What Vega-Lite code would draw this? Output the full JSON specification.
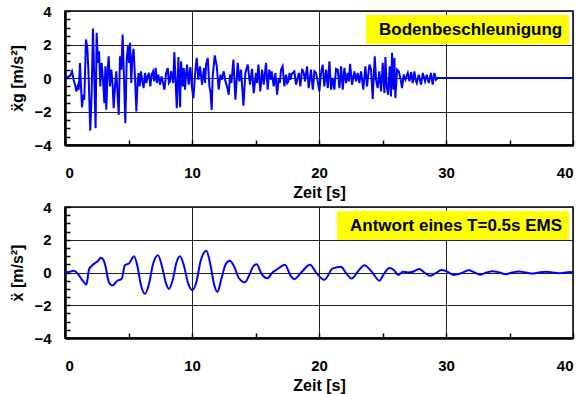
{
  "$schema": "https://vega.github.io/schema/vega-lite/v6.json",
  "background": "white",
  "padding": {"left": 9, "top": 3, "right": 5, "bottom": 5},
  "bounds": "flush",
  "spacing": 62,
  "config": {
    "font": "Liberation Sans",
    "view": {"stroke": "#000", "strokeWidth": 1.5},
    "axis": {
      "zindex": 1,
      "domainColor": "#000",
      "domainWidth": 2.5,
      "tickColor": "#000",
      "tickWidth": 1.5,
      "labelFont": "Liberation Sans",
      "labelFontWeight": "bold",
      "labelFontSize": 15,
      "labelColor": "#000",
      "titleFont": "Liberation Sans",
      "titleFontWeight": "bold",
      "titleFontSize": 16,
      "titleColor": "#000",
      "gridColor": "#222",
      "gridWidth": 1
    },
    "legend": {
      "orient": "top-right",
      "offset": 4,
      "fillColor": "#ffff00",
      "padding": 6,
      "symbolSize": 0,
      "symbolStrokeWidth": 0,
      "symbolOpacity": 0,
      "labelOffset": -10,
      "labelLimit": 0,
      "labelFont": "Liberation Sans",
      "labelFontWeight": "bold",
      "labelFontSize": 17,
      "labelColor": "#000",
      "cornerRadius": 0
    }
  },
  "resolve": {"scale": {"color": "independent"}, "legend": {"color": "independent"}},
  "datasets": {
    "boden": [
      {"t":0,"a":0},{"t":0.21,"a":0.06},{"t":0.42,"a":0.14},{"t":0.55,"a":0.4},{"t":0.68,"a":-0.1},{"t":0.79,"a":-0.4},{"t":0.89,"a":-0.8},{"t":1.0,"a":-0.5},{"t":1.08,"a":-0.7},{"t":1.18,"a":0.9},{"t":1.26,"a":-0.5},{"t":1.34,"a":-1.75},{"t":1.44,"a":-1.0},{"t":1.52,"a":-1.3},{"t":1.65,"a":2.3},{"t":1.76,"a":1.8},{"t":1.86,"a":0.1},{"t":1.99,"a":-3.15},{"t":2.1,"a":-0.9},{"t":2.2,"a":2.95},{"t":2.31,"a":-0.1},{"t":2.41,"a":-3.0},{"t":2.49,"a":2.7},{"t":2.6,"a":0.9},{"t":2.68,"a":1.6},{"t":2.78,"a":-0.5},{"t":2.89,"a":0.9},{"t":3.0,"a":-0.2},{"t":3.1,"a":-1.5},{"t":3.18,"a":0.7},{"t":3.25,"a":-1.9},{"t":3.36,"a":0.5},{"t":3.44,"a":1.3},{"t":3.54,"a":-0.5},{"t":3.65,"a":0.5},{"t":3.75,"a":-0.4},{"t":3.83,"a":-1.8},{"t":3.94,"a":-0.5},{"t":4.04,"a":0.4},{"t":4.15,"a":-1.1},{"t":4.23,"a":-2.2},{"t":4.33,"a":1.3},{"t":4.44,"a":0.5},{"t":4.54,"a":2.6},{"t":4.65,"a":-0.1},{"t":4.75,"a":-2.7},{"t":4.86,"a":1.1},{"t":4.96,"a":1.9},{"t":5.04,"a":0.9},{"t":5.12,"a":2.1},{"t":5.22,"a":-0.3},{"t":5.3,"a":1.2},{"t":5.4,"a":1.75},{"t":5.5,"a":0.2},{"t":5.62,"a":-2.0},{"t":5.72,"a":-0.2},{"t":5.8,"a":0.3},{"t":5.88,"a":-0.5},{"t":5.98,"a":0.4},{"t":6.09,"a":-0.2},{"t":6.19,"a":-0.6},{"t":6.3,"a":0.3},{"t":6.4,"a":-0.3},{"t":6.51,"a":0.1},{"t":6.61,"a":0.3},{"t":6.72,"a":-0.5},{"t":6.82,"a":0.2},{"t":6.93,"a":0.4},{"t":7.03,"a":-0.2},{"t":7.14,"a":0.6},{"t":7.24,"a":-0.3},{"t":7.35,"a":0.2},{"t":7.48,"a":-0.4},{"t":7.6,"a":0.1},{"t":7.69,"a":-0.2},{"t":7.83,"a":-0.7},{"t":7.96,"a":0.3},{"t":8.09,"a":0.6},{"t":8.18,"a":-0.3},{"t":8.27,"a":-0.2},{"t":8.35,"a":0.4},{"t":8.43,"a":0.2},{"t":8.52,"a":-0.3},{"t":8.61,"a":1.55},{"t":8.8,"a":-1.8},{"t":8.93,"a":1.25},{"t":9.06,"a":-1.75},{"t":9.14,"a":1.0},{"t":9.27,"a":-0.5},{"t":9.35,"a":0.6},{"t":9.45,"a":-0.7},{"t":9.53,"a":0.2},{"t":9.61,"a":0.8},{"t":9.74,"a":-0.4},{"t":9.87,"a":0.65},{"t":10.0,"a":-0.6},{"t":10.11,"a":-1.2},{"t":10.27,"a":0.5},{"t":10.37,"a":1.2},{"t":10.5,"a":-0.1},{"t":10.63,"a":0.7},{"t":10.79,"a":-0.4},{"t":10.88,"a":0.2},{"t":10.95,"a":0.6},{"t":11.03,"a":-0.3},{"t":11.11,"a":0.8},{"t":11.24,"a":1.2},{"t":11.37,"a":-0.5},{"t":11.45,"a":-0.8},{"t":11.55,"a":-1.9},{"t":11.63,"a":0.1},{"t":11.79,"a":1.35},{"t":11.95,"a":0.7},{"t":12.1,"a":-0.7},{"t":12.24,"a":0.2},{"t":12.34,"a":-0.1},{"t":12.5,"a":0.4},{"t":12.63,"a":-0.2},{"t":12.76,"a":-0.5},{"t":12.89,"a":-1.0},{"t":13.0,"a":0.2},{"t":13.1,"a":-0.3},{"t":13.26,"a":1.1},{"t":13.42,"a":-1.3},{"t":13.6,"a":0.9},{"t":13.73,"a":-0.2},{"t":13.86,"a":0.5},{"t":14.05,"a":-1.65},{"t":14.2,"a":0.3},{"t":14.39,"a":0.8},{"t":14.57,"a":-0.4},{"t":14.73,"a":0.55},{"t":14.86,"a":-0.9},{"t":15.04,"a":0.3},{"t":15.13,"a":-0.3},{"t":15.23,"a":0.8},{"t":15.38,"a":-0.8},{"t":15.52,"a":0.5},{"t":15.65,"a":-0.4},{"t":15.83,"a":0.9},{"t":15.96,"a":-0.7},{"t":16.09,"a":0.5},{"t":16.2,"a":-0.1},{"t":16.28,"a":0.4},{"t":16.43,"a":-0.5},{"t":16.57,"a":0.3},{"t":16.7,"a":-1.0},{"t":16.83,"a":0},{"t":16.92,"a":-0.3},{"t":17.01,"a":0.5},{"t":17.14,"a":0.7},{"t":17.27,"a":-0.5},{"t":17.41,"a":0.2},{"t":17.5,"a":-0.3},{"t":17.59,"a":-0.2},{"t":17.68,"a":0.3},{"t":17.75,"a":-0.1},{"t":17.84,"a":0.2},{"t":17.93,"a":0.3},{"t":18.06,"a":0.4},{"t":18.19,"a":-0.4},{"t":18.32,"a":0},{"t":18.42,"a":0.3},{"t":18.53,"a":-0.5},{"t":18.67,"a":0.55},{"t":18.8,"a":0.3},{"t":18.9,"a":-0.2},{"t":19.06,"a":0.7},{"t":19.19,"a":-0.6},{"t":19.37,"a":0.5},{"t":19.51,"a":-0.7},{"t":19.64,"a":0.4},{"t":19.77,"a":0.3},{"t":19.9,"a":-0.2},{"t":20.03,"a":-0.8},{"t":20.16,"a":0.3},{"t":20.29,"a":0.8},{"t":20.42,"a":-0.5},{"t":20.56,"a":0.5},{"t":20.69,"a":-0.6},{"t":20.82,"a":1.0},{"t":20.95,"a":-0.7},{"t":21.08,"a":0},{"t":21.21,"a":-0.7},{"t":21.34,"a":0.55},{"t":21.47,"a":0.5},{"t":21.61,"a":-0.6},{"t":21.74,"a":0.7},{"t":21.87,"a":-0.7},{"t":22.0,"a":0.6},{"t":22.13,"a":-0.3},{"t":22.26,"a":0.3},{"t":22.35,"a":-0.2},{"t":22.45,"a":0.85},{"t":22.6,"a":-0.4},{"t":22.79,"a":0.4},{"t":22.92,"a":-0.2},{"t":23.05,"a":0.3},{"t":23.18,"a":-0.3},{"t":23.31,"a":0.4},{"t":23.49,"a":-0.7},{"t":23.65,"a":0.7},{"t":23.78,"a":-0.5},{"t":23.97,"a":0.8},{"t":24.1,"a":0.5},{"t":24.23,"a":-1.25},{"t":24.39,"a":1.3},{"t":24.49,"a":-0.1},{"t":24.62,"a":-0.6},{"t":24.75,"a":0.4},{"t":24.89,"a":-0.8},{"t":25.02,"a":0.9},{"t":25.15,"a":-0.9},{"t":25.23,"a":1.25},{"t":25.33,"a":-0.5},{"t":25.44,"a":-1.0},{"t":25.57,"a":0.7},{"t":25.67,"a":-1.1},{"t":25.75,"a":1.5},{"t":25.86,"a":-0.7},{"t":25.94,"a":1.2},{"t":26.01,"a":-1.2},{"t":26.15,"a":0.5},{"t":26.28,"a":0.4},{"t":26.41,"a":0},{"t":26.54,"a":-0.6},{"t":26.67,"a":0.2},{"t":26.8,"a":-0.1},{"t":26.99,"a":0.3},{"t":27.12,"a":-0.2},{"t":27.25,"a":0.35},{"t":27.38,"a":-0.3},{"t":27.51,"a":0.4},{"t":27.6,"a":-0.1},{"t":27.7,"a":-0.3},{"t":27.85,"a":0.2},{"t":28.04,"a":-0.4},{"t":28.17,"a":0.3},{"t":28.35,"a":-0.2},{"t":28.48,"a":0.2},{"t":28.64,"a":-0.3},{"t":28.82,"a":0.3},{"t":28.95,"a":-0.4},{"t":29.09,"a":0.3},{"t":29.22,"a":-0.1},{"t":29.35,"a":0},{"t":40,"a":0}
    ],
    "antwort": [
      {"t":0,"a":0},{"t":0.4,"a":0.05},{"t":0.7,"a":0.1},{"t":0.97,"a":-0.05},{"t":1.3,"a":-0.4},{"t":1.5,"a":-0.6},{"t":1.68,"a":-0.75},{"t":1.9,"a":0.2},{"t":2.1,"a":0.4},{"t":2.41,"a":0.6},{"t":2.6,"a":0.7},{"t":2.81,"a":0.9},{"t":3.0,"a":0.8},{"t":3.15,"a":0.5},{"t":3.46,"a":-0.6},{"t":3.73,"a":-0.8},{"t":3.9,"a":-0.7},{"t":4.12,"a":-0.5},{"t":4.3,"a":-0.45},{"t":4.46,"a":-0.4},{"t":4.72,"a":0.45},{"t":5.04,"a":0.55},{"t":5.2,"a":0.75},{"t":5.43,"a":1.0},{"t":5.7,"a":0.4},{"t":5.96,"a":-0.7},{"t":6.3,"a":-1.3},{"t":6.61,"a":-0.7},{"t":6.93,"a":0.5},{"t":7.32,"a":1.05},{"t":7.66,"a":0.3},{"t":7.93,"a":-0.6},{"t":8.19,"a":-1.0},{"t":8.5,"a":-0.4},{"t":8.77,"a":0.6},{"t":9.06,"a":1.0},{"t":9.37,"a":0.4},{"t":9.69,"a":-0.65},{"t":10.03,"a":-1.08},{"t":10.34,"a":-0.6},{"t":10.68,"a":0.7},{"t":11.13,"a":1.33},{"t":11.47,"a":0.4},{"t":11.73,"a":-0.7},{"t":12.0,"a":-1.18},{"t":12.31,"a":-0.4},{"t":12.65,"a":0.5},{"t":12.97,"a":0.72},{"t":13.3,"a":0.4},{"t":13.7,"a":-0.35},{"t":14.17,"a":-0.6},{"t":14.54,"a":-0.1},{"t":14.8,"a":0.35},{"t":15.09,"a":0.5},{"t":15.49,"a":-0.1},{"t":15.93,"a":-0.35},{"t":16.33,"a":0},{"t":16.72,"a":0.2},{"t":17.32,"a":0.47},{"t":17.77,"a":-0.2},{"t":18.06,"a":-0.4},{"t":18.6,"a":0.0},{"t":19.3,"a":0.47},{"t":19.77,"a":0.0},{"t":20.42,"a":-0.45},{"t":21.08,"a":0.25},{"t":21.73,"a":0.35},{"t":22.1,"a":0.0},{"t":22.57,"a":-0.37},{"t":23.1,"a":0.1},{"t":23.57,"a":0.45},{"t":24.2,"a":0.0},{"t":24.75,"a":-0.5},{"t":25.1,"a":-0.1},{"t":25.54,"a":0.27},{"t":25.9,"a":0.15},{"t":26.25,"a":-0.15},{"t":26.6,"a":0.05},{"t":26.98,"a":0.0},{"t":27.4,"a":0.05},{"t":27.9,"a":0.22},{"t":28.3,"a":0.0},{"t":28.75,"a":-0.2},{"t":29.15,"a":-0.05},{"t":29.65,"a":0.15},{"t":30.1,"a":0.05},{"t":30.6,"a":-0.15},{"t":31.2,"a":-0.05},{"t":31.8,"a":0.13},{"t":32.25,"a":0.0},{"t":32.7,"a":-0.13},{"t":33.2,"a":0.0},{"t":33.65,"a":0.08},{"t":34.2,"a":0.0},{"t":34.7,"a":-0.1},{"t":35.2,"a":0.0},{"t":35.75,"a":0.06},{"t":36.3,"a":0.0},{"t":36.8,"a":-0.06},{"t":37.3,"a":0.0},{"t":37.85,"a":0.04},{"t":38.4,"a":0.0},{"t":38.9,"a":-0.05},{"t":39.4,"a":0.0},{"t":40,"a":0.03}
    ]
  },
  "vconcat": [
    {
      "width": 508,
      "height": 134,
      "data": {"name": "boden"},
      "mark": {"type": "line", "strokeWidth": 2, "clip": true},
      "encoding": {
        "x": {
          "field": "t", "type": "quantitative",
          "scale": {"domain": [0, 40], "nice": false},
          "axis": {
            "title": "Zeit [s]",
            "values": [0, 5, 10, 15, 20, 25, 30, 35, 40],
            "ticks": true,
            "tickSize": -5,
            "labelPadding": 25,
            "titlePadding": 4,
            "labelExpr": "datum.value % 10 === 0 ? format(datum.value, 'd') : ''",
            "gridOpacity": {"condition": {"test": "datum.value % 10 === 0", "value": 1}, "value": 0}
          }
        },
        "y": {
          "field": "a", "type": "quantitative",
          "scale": {"domain": [-4, 4], "nice": false},
          "axis": {
            "title": "ẍg [m/s²]",
            "values": [-4, -3.5, -3, -2.5, -2, -1.5, -1, -0.5, 0, 0.5, 1, 1.5, 2, 2.5, 3, 3.5, 4],
            "ticks": true,
            "tickSize": -5,
            "labelPadding": 19,
            "titlePadding": 8,
            "labelExpr": "datum.value % 2 === 0 ? format(datum.value, 'd') : ''",
            "gridOpacity": {"condition": {"test": "datum.value % 2 === 0", "value": 1}, "value": 0}
          }
        },
        "color": {
          "datum": "Bodenbeschleunigung",
          "scale": {"range": ["#0000ff"]},
          "legend": {"title": null}
        }
      }
    },
    {
      "width": 508,
      "height": 131,
      "data": {"name": "antwort"},
      "mark": {"type": "line", "strokeWidth": 2, "interpolate": "monotone", "clip": true},
      "encoding": {
        "x": {
          "field": "t", "type": "quantitative",
          "scale": {"domain": [0, 40], "nice": false},
          "axis": {
            "title": "Zeit [s]",
            "values": [0, 5, 10, 15, 20, 25, 30, 35, 40],
            "ticks": true,
            "tickSize": -5,
            "labelPadding": 25,
            "titlePadding": 4,
            "labelExpr": "datum.value % 10 === 0 ? format(datum.value, 'd') : ''",
            "gridOpacity": {"condition": {"test": "datum.value % 10 === 0", "value": 1}, "value": 0}
          }
        },
        "y": {
          "field": "a", "type": "quantitative",
          "scale": {"domain": [-4, 4], "nice": false},
          "axis": {
            "title": "ẍ [m/s²]",
            "values": [-4, -3.5, -3, -2.5, -2, -1.5, -1, -0.5, 0, 0.5, 1, 1.5, 2, 2.5, 3, 3.5, 4],
            "ticks": true,
            "tickSize": -5,
            "labelPadding": 19,
            "titlePadding": 8,
            "labelExpr": "datum.value % 2 === 0 ? format(datum.value, 'd') : ''",
            "gridOpacity": {"condition": {"test": "datum.value % 2 === 0", "value": 1}, "value": 0}
          }
        },
        "color": {
          "datum": "Antwort eines T=0.5s EMS",
          "scale": {"range": ["#0000ff"]},
          "legend": {"title": null}
        }
      }
    }
  ]
}
